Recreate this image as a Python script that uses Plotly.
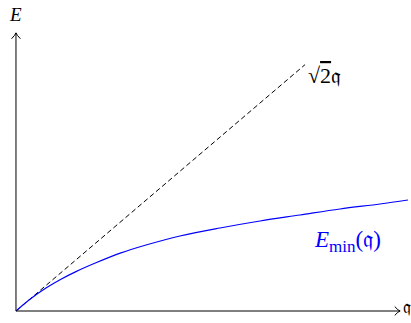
import plotly.graph_objects as go

# E_min(q) curve
q_vals = [0, 0.153, 0.306, 0.459, 0.612, 0.816, 1.071, 1.327, 1.673, 2.082, 2.490, 2.898, 3.306, 3.714, 4.0]
e_min = [0, 0.212, 0.390, 0.540, 0.670, 0.820, 0.988, 1.122, 1.276, 1.412, 1.531, 1.633, 1.735, 1.820, 1.888]

# sqrt(2) q reference line
q_line = [0, 2.95]
e_line = [0, 4.19]

x_end = 3.92   # arrow tips of the axes
y_end = 4.73

fig = go.Figure()
fig.add_trace(go.Scatter(x=q_line, y=e_line, mode="lines",
                         line=dict(color="black", width=1, dash="5px,3px")))
fig.add_trace(go.Scatter(x=q_vals, y=e_min, mode="lines", line_shape="spline",
                         line=dict(color="#0000ff", width=1.2)))

ax_style = dict(color="black", width=1)
# axes
fig.add_shape(type="line", x0=0, y0=0, x1=x_end, y1=0, line=ax_style)
fig.add_shape(type="line", x0=0, y0=0, x1=0, y1=y_end, line=ax_style)
# arrow heads
fig.add_shape(type="path", xref="x", yref="y",
              path=f"M {x_end-0.055},{0.075} Q {x_end-0.02},{0.01} {x_end},0 Q {x_end-0.02},{-0.01} {x_end-0.055},{-0.075}",
              line=ax_style)
fig.add_shape(type="path", xref="x", yref="y",
              path=f"M {-0.045},{y_end-0.1} Q {-0.007},{y_end-0.035} 0,{y_end} Q {0.007},{y_end-0.035} {0.045},{y_end-0.1}",
              line=ax_style)

serif = "Liberation Serif, DejaVu Serif, serif"
fig.add_annotation(x=0, y=5.05, text="<i>E</i>", showarrow=False,
                   font=dict(family=serif, size=19, color="black"))
fig.add_annotation(x=3.99, y=0.06, text="𝔮", showarrow=False, xanchor="center",
                   borderpad=0, font=dict(family=serif, size=18, color="black"))
fig.add_annotation(x=2.96, y=4.0, text="√<span style='text-decoration:overline'>2</span>𝔮",
                   showarrow=False, xanchor="left",
                   font=dict(family=serif, size=22, color="black"))
fig.add_annotation(x=3.38, y=1.18,
                   text="<i>E</i><sub><span style='font-size:17px'>min</span></sub>(𝔮)",
                   showarrow=False,
                   font=dict(family=serif, size=23, color="#0000ff"))

fig.update_layout(
    width=411, height=323,
    margin=dict(l=0, r=0, t=0, b=0),
    plot_bgcolor="white", paper_bgcolor="white",
    showlegend=False,
    xaxis=dict(range=[-0.163, 4.031], visible=False),
    yaxis=dict(range=[-0.204, 5.289], visible=False),
)

# drop the page's default body margin so the figure fills the window
fig.write_html("out.html", config={"displayModeBar": False},
               post_script="document.body.style.margin='0';document.body.style.overflow='hidden';")
